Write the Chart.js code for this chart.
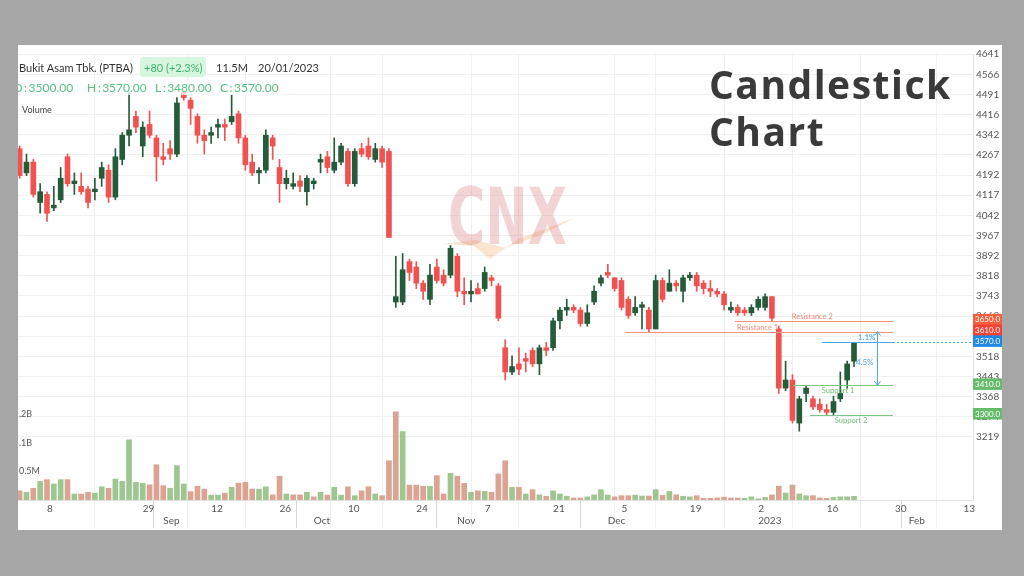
<!DOCTYPE html>
<html>
<head>
<meta charset="utf-8">
<script src="https://cdn.jsdelivr.net/npm/chart.js@4.4.0/dist/chart.umd.min.js"></script>
<style>
  html, body { margin: 0; padding: 0; }
  body { width: 1024px; height: 576px; background: #a6a6a6; position: relative; overflow: hidden; font-family: Lato, sans-serif; }
  #panel { position: absolute; left: 18px; top: 45px; width: 984px; height: 485px; background: #fff; overflow: hidden; }
  #chart { position: absolute; left: 0; top: 0; }
  .t { position: absolute; white-space: nowrap; line-height: 1; }
  .row1 { top: 17px; font-size: 11px; color: #333; }
  .ohlc { top: 37px; font-size: 12px; color: #55c283; }
  #pill { position: absolute; left: 122px; top: 12px; width: 66px; height: 20px; background: #d7f6e0; border-radius: 3px; }
  #band { position: absolute; left: 0; top: 36px; width: 268px; height: 14px; background: rgba(255,255,255,0.75); }
  .title { position: absolute; left: 709px; font-family: "Open Sans", sans-serif; font-weight: 700; font-size: 39px; letter-spacing: 1.5px; color: #3a3a3a; line-height: 1; white-space: nowrap; }
</style>
</head>
<body>
<div id="panel">
  <canvas id="chart" width="984" height="485" style="width:984px;height:485px"></canvas>
  <div id="band"></div>
  <div id="pill"></div>
  <div class="t row1" style="left:1px">Bukit Asam Tbk. (PTBA)</div>
  <div class="t row1" style="left:126px;color:#3db46d">+80 (+2.3%)</div>
  <div class="t row1" style="left:198px">11.5M</div>
  <div class="t row1" style="left:240px">20/01/2023</div>
  <div class="t ohlc" style="left:-5px">O&thinsp;:&thinsp;3500.00</div>
  <div class="t ohlc" style="left:69px">H&thinsp;:&thinsp;3570.00</div>
  <div class="t ohlc" style="left:137px">L&thinsp;:&thinsp;3480.00</div>
  <div class="t ohlc" style="left:202px">C&thinsp;:&thinsp;3570.00</div>
  <div class="t" style="left:4px;top:60px;font-size:9px;color:#444">Volume</div>
</div>
<div class="title" style="top:64px">Candlestick</div>
<div class="title" style="top:111px">Chart</div>

<script>
// ===== Candles, Aug 2 2022 (index 0) .. Jan 20 2023 (index 122), one per trading day =====
const openP = [
  4290,4200,4240,4090,4120,4070,4100,4260,4160,4150,
  4140,4130,4180,4210,4110,4250,4340,4410,4300,4380,
  4330,4260,4290,4270,4500,4470,4410,4340,4340,4370,
  4380,4390,4420,4330,4240,4200,4210,4330,4220,4160,
  4150,4170,4130,4160,4240,4260,4210,4240,4280,4160,
  4290,4300,4250,4290,4280,3720,3720,3870,3850,3790,
  3730,3850,3820,3820,3890,3760,3750,3770,3770,3810,
  3780,3550,3460,3490,3510,3540,3490,3550,3550,3650,
  3690,3700,3690,3640,3720,3790,3830,3810,3800,3730,
  3680,3700,3690,3620,3800,3760,3790,3760,3810,3820,
  3790,3770,3760,3750,3690,3700,3690,3680,3700,3700,
  3740,3620,3400,3430,3270,3380,3360,3340,3320,3310,
  3360,3430,3500
];
const highP = [
  4300,4270,4250,4160,4130,4150,4220,4270,4200,4200,
  4150,4180,4240,4230,4290,4350,4500,4430,4390,4430,
  4340,4310,4320,4480,4510,4480,4420,4360,4370,4400,
  4400,4490,4430,4340,4270,4220,4360,4340,4250,4210,
  4200,4190,4190,4180,4270,4280,4330,4310,4290,4290,
  4310,4330,4310,4300,4290,3890,3900,3880,3870,3800,
  3860,3880,3840,3930,3900,3810,3800,3790,3850,3820,
  3790,3580,3520,3550,3530,3550,3560,3570,3660,3700,
  3730,3710,3700,3710,3780,3820,3860,3810,3810,3740,
  3740,3720,3700,3820,3810,3840,3800,3820,3830,3830,
  3800,3800,3770,3760,3720,3710,3700,3710,3740,3750,
  3740,3630,3500,3450,3370,3410,3370,3360,3340,3370,
  3460,3500,3570
];
const lowP = [
  4180,4190,4110,4050,4020,4060,4090,4150,4120,4120,
  4070,4100,4150,4090,4100,4230,4300,4350,4260,4330,
  4170,4230,4250,4260,4470,4380,4310,4270,4310,4330,
  4320,4380,4310,4210,4190,4160,4200,4250,4090,4140,
  4140,4130,4080,4140,4200,4200,4200,4230,4150,4150,
  4260,4250,4240,4220,3960,3700,3710,3800,3770,3730,
  3710,3790,3780,3810,3740,3710,3720,3750,3760,3780,
  3650,3430,3450,3450,3460,3480,3450,3520,3540,3620,
  3670,3680,3630,3630,3710,3780,3810,3760,3690,3660,
  3670,3620,3610,3620,3720,3760,3760,3720,3800,3760,
  3750,3740,3740,3690,3680,3670,3670,3670,3690,3690,
  3650,3380,3390,3270,3240,3350,3320,3310,3300,3300,
  3350,3400,3480
];
const closeP = [
  4190,4240,4120,4130,4050,4080,4180,4160,4170,4130,
  4090,4140,4220,4110,4260,4340,4360,4370,4370,4340,
  4260,4250,4270,4460,4480,4440,4340,4320,4350,4380,
  4370,4410,4330,4230,4200,4210,4340,4300,4160,4180,
  4160,4150,4180,4170,4250,4220,4240,4300,4160,4280,
  4270,4260,4290,4240,3960,3740,3840,3830,3790,3760,
  3820,3800,3790,3920,3760,3750,3760,3750,3830,3800,
  3660,3460,3480,3470,3500,3490,3550,3540,3650,3690,
  3700,3690,3640,3680,3760,3810,3820,3770,3700,3670,
  3700,3710,3620,3800,3730,3790,3780,3810,3820,3780,
  3770,3760,3750,3710,3700,3680,3680,3700,3730,3740,
  3660,3400,3430,3280,3360,3400,3330,3320,3310,3350,
  3380,3490,3570
];
const volume = [
  3.2,2.7,4.1,6.5,7.1,5.6,7.1,7.1,2.1,2.1,
  2.7,2.4,4.6,4.1,7.3,6.5,21,6.2,5.8,5.3,
  12.3,5,4.1,12,5.6,2.9,4.8,3.8,1.7,1.7,
  2.4,4.4,5.9,6.2,3.8,3.8,4.6,1.8,8.3,2.1,
  1.8,1.8,2.7,1.1,2.7,1.7,4.4,1.7,4.6,1.5,
  3.2,4.6,2.1,1.5,13.7,30.8,23.9,5.2,5.2,4.8,
  4.8,8.5,2.1,9.3,8.3,5.8,2.7,3.2,3,2.7,
  9.1,13.7,4.4,4.4,2.1,3.6,1.8,1.3,3.2,2.1,
  1.3,0.7,0.7,1.1,1.8,3.6,1.7,1.1,1.5,1.5,
  1.7,1.4,1.4,3.6,1.6,3,1.8,1.3,1.1,1.5,
  0.6,0.6,0.7,1,0.7,0.7,0.6,1.1,0.4,0.9,
  1.8,4.8,2.4,5.2,2.1,1.5,1.5,0.7,0.6,0.9,
  1.1,1.1,1.3
];

// ===== Axis ticks =====
const priceTicks = [4641,4566,4491,4416,4342,4267,4192,4117,4042,3967,3892,3818,3743,3668,3593,3518,3443,3368,3294,3219];
const dayTicks = [4,18,28,38,48,58,68,78,88,98,108,118,128,138];
const dayLabels = ['8','29','12','26','10','24','7','21','5','19','2','16','30','13'];
const monthTicks = [21,43,64,86,108,130];
const monthLabels = ['Sep','Oct','Nov','Dec','2023','Feb'];
const volTicks = [10,20,30];
const volLabels = ['0.5M','.1B','.2B'];

// ===== Drawn levels (support / resistance) and markers =====
const levelValues = [3650, 3610, 3410, 3300];
const levelNames = ['Resistance 2', 'Resistance 1', 'Support 1', 'Support 2'];
const levelFrom = [104.6, 88.5, 113.1, 115.6];
const levelLabelAt = [112.9, 104.9, 117.3, 119.2];
const levelEnd = 127.7;
const lastClose = 3570;
const markerValues = [3650, 3610, 3570, 3410, 3300];
const markerColors = ['#f2603f', '#f44336', '#1e88e5', '#66bb6a', '#66bb6a'];

const UP = '#245c3a', DOWN = '#f05252';
const VOL_UP = '#9dc690', VOL_DOWN = '#dba391';

const candleColor = closeP.map((c, i) => c >= openP[i] ? UP : DOWN);
const volColor = closeP.map((c, i) => {
    const ref = i === 0 ? openP[0] : closeP[i - 1];
    return c >= ref ? VOL_UP : VOL_DOWN;
});

// ===== Overlay drawing (watermark, levels, price markers) =====
const overlay = {
    id: 'overlay',
    beforeDatasetsDraw(chart) {
        const ctx = chart.ctx;
        ctx.save();
        ctx.fillStyle = 'rgba(244,180,120,0.35)';
        ctx.beginPath();
        ctx.moveTo(424, 199); ctx.lineTo(456, 201); ctx.lineTo(472, 214);
        ctx.lineTo(500, 194); ctx.lineTo(556, 173); ctx.lineTo(528, 188);
        ctx.lineTo(488, 203); ctx.lineTo(458, 195); ctx.closePath();
        ctx.fill();
        ctx.font = 'bold 78px "DejaVu Sans"';
        const w = ctx.measureText('CNX').width;
        ctx.translate(430, 199);
        ctx.scale(119 / w, 1);
        ctx.fillStyle = 'rgba(214,120,120,0.32)';
        ctx.textBaseline = 'alphabetic';
        ctx.fillText('CNX', 0, 0);
        ctx.restore();
    },
    afterDatasetsDraw(chart) {
        const ctx = chart.ctx, x = chart.scales.x, y = chart.scales.y;
        ctx.save();
        ctx.font = '7.5px Lato';
        levelValues.forEach((v, k) => {
            const isRes = k < 2;
            const py = Math.round(y.getPixelForValue(v)) + 0.5;
            ctx.strokeStyle = isRes ? '#f4927f' : '#7cc681';
            ctx.lineWidth = 1;
            ctx.beginPath();
            ctx.moveTo(x.getPixelForValue(levelFrom[k]), py);
            ctx.lineTo(x.getPixelForValue(levelEnd), py);
            ctx.stroke();
            ctx.fillStyle = isRes ? '#f08a78' : '#72c078';
            ctx.textBaseline = isRes ? 'bottom' : 'top';
            ctx.fillText(levelNames[k], x.getPixelForValue(levelLabelAt[k]), isRes ? py - 1 : py + 1);
        });
        // measuring tool
        const blue = '#4aa8e6';
        const cy = Math.round(y.getPixelForValue(lastClose)) + 0.5;
        ctx.strokeStyle = blue;
        ctx.beginPath();
        ctx.moveTo(x.getPixelForValue(117.3), cy);
        ctx.lineTo(x.getPixelForValue(levelEnd), cy);
        ctx.stroke();
        ctx.setLineDash([2, 2]);
        ctx.beginPath();
        ctx.moveTo(x.getPixelForValue(levelEnd), cy);
        ctx.lineTo(chart.chartArea.right, cy);
        ctx.stroke();
        ctx.setLineDash([]);
        const ax = Math.round(x.getPixelForValue(125.3)) + 0.5;
        const top = y.getPixelForValue(levelValues[1]);
        const bot = y.getPixelForValue(levelValues[2]);
        ctx.beginPath();
        ctx.moveTo(ax, top); ctx.lineTo(ax, bot);
        ctx.moveTo(ax - 3, top + 4); ctx.lineTo(ax, top); ctx.lineTo(ax + 3, top + 4);
        ctx.moveTo(ax - 3, bot - 4); ctx.lineTo(ax, bot); ctx.lineTo(ax + 3, bot - 4);
        ctx.stroke();
        ctx.fillStyle = blue;
        ctx.font = '8px Lato';
        ctx.textAlign = 'right';
        ctx.textBaseline = 'middle';
        ctx.fillText('1.1%', ax - 2, (top + cy) / 2 + 0.5);
        ctx.fillText('4.5%', ax - 4, cy + 20);
        ctx.restore();
    },
    afterDraw(chart) {
        const ctx = chart.ctx, y = chart.scales.y;
        ctx.save();
        ctx.font = '8px Lato';
        ctx.textBaseline = 'middle';
        markerValues.forEach((v, k) => {
            const py = y.getPixelForValue(v) - 1.5;
            ctx.fillStyle = markerColors[k];
            ctx.fillRect(y.left, py - 5.5, 30, 11.5);
            ctx.fillStyle = '#fff';
            ctx.fillText(v.toFixed(1), y.left + 2, py + 0.5);
        });
        ctx.restore();
    }
};

const isMonthOnly = v => monthTicks.includes(v) && !dayTicks.includes(v);

new Chart(document.getElementById('chart'), {
    type: 'bar',
    data: {
        datasets: [
            {
                label: 'Volume', yAxisID: 'yv', order: 3,
                data: volume.map((v, i) => ({ x: i, y: v })),
                backgroundColor: volColor, barThickness: 5, grouped: false
            },
            {
                label: 'Wick', yAxisID: 'y', order: 2,
                data: closeP.map((c, i) => ({ x: i, y: [lowP[i], highP[i]] })),
                backgroundColor: candleColor, barThickness: 1, grouped: false
            },
            {
                label: 'Body', yAxisID: 'y', order: 1,
                data: closeP.map((c, i) => ({ x: i, y: [openP[i], c] })),
                backgroundColor: candleColor, barThickness: 5, minBarLength: 1, grouped: false
            }
        ]
    },
    options: {
        responsive: false,
        animation: false,
        events: [],
        layout: { padding: { top: 8, left: 0, right: 0, bottom: 0 } },
        plugins: { legend: { display: false }, tooltip: { enabled: false } },
        scales: {
            x: {
                type: 'linear', min: -0.24, max: 139.4, offset: false,
                afterBuildTicks: s => { s.ticks = [...new Set([...dayTicks, ...monthTicks])].sort((a, b) => a - b).map(v => ({ value: v })); },
                afterFit: s => { s.height = 30; },
                ticks: {
                    autoSkip: false, maxRotation: 0, align: 'start', padding: -25,
                    color: '#555', font: { family: 'Lato', size: 10 },
                    callback: v => {
                        const d = dayTicks.indexOf(v), m = monthTicks.indexOf(v);
                        if (d >= 0 && m >= 0) return [dayLabels[d], monthLabels[m]];
                        if (d >= 0) return dayLabels[d];
                        return ['', monthLabels[m]];
                    }
                },
                grid: {
                    color: c => isMonthOnly(c.tick && c.tick.value) ? 'rgba(0,0,0,0)' : '#efefef',
                    tickColor: c => isMonthOnly(c.tick && c.tick.value) ? '#d8d8d8' : '#efefef',
                    tickLength: 28
                },
                border: { color: '#e3e3e3' }
            },
            y: {
                position: 'right', min: 2984, max: 4642,
                afterBuildTicks: s => { s.ticks = priceTicks.map(v => ({ value: v })); },
                afterFit: s => { s.width = 29; },
                ticks: { padding: 3, color: '#555', font: { family: 'Lato', size: 10 }, callback: v => String(v) },
                grid: { color: '#f0f0f0', drawTicks: false },
                border: { color: '#e3e3e3' }
            },
            yv: {
                position: 'left', min: 0, max: 155.7,
                afterBuildTicks: s => { s.ticks = volTicks.map(v => ({ value: v })); },
                afterFit: s => { s.width = 0; },
                ticks: { mirror: true, padding: 1, color: '#555', font: { family: 'Lato', size: 9 }, callback: v => volLabels[volTicks.indexOf(v)] },
                grid: { display: false, drawTicks: false },
                border: { display: false }
            }
        }
    },
    plugins: [overlay]
});
</script>
</body>
</html>
